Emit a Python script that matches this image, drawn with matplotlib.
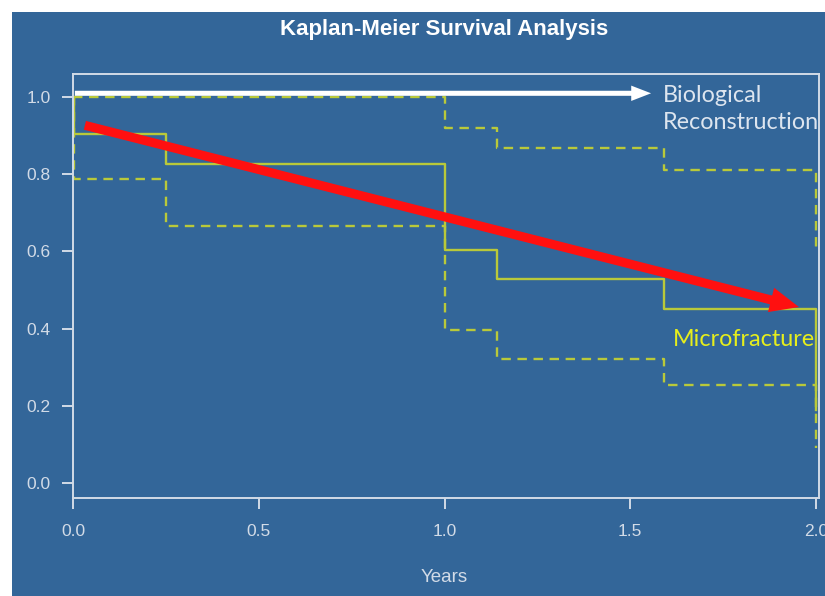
import matplotlib
matplotlib.use("Agg")
import matplotlib.pyplot as plt
from matplotlib.patches import Rectangle

# Kaplan-Meier step data
times = [0.0, 0.003, 0.25, 1.0, 1.14, 1.59, 2.0]
surv = [1.0, 0.904, 0.828, 0.603, 0.528, 0.452, 0.19]
upper = [1.0, 1.0, 1.0, 0.919, 0.867, 0.811, 0.61]
lower = [1.0, 0.788, 0.667, 0.396, 0.321, 0.254, 0.09]

x_ticks = [0.0, 0.5, 1.0, 1.5, 2.0]
y_ticks = [0.0, 0.2, 0.4, 0.6, 0.8, 1.0]

# annotation arrows (start, end) in data units
white_arrow = [(0.005, 1.010), (1.556, 1.010)]
red_arrow = [(0.032, 0.927), (1.954, 0.456)]

bg = "#336699"
fg = "#d2dbe7"
km_col = "#b9c93a"

fig = plt.figure(figsize=(8.25, 5.96), dpi=100)
fig.patch.set_facecolor("white")
fig.patches.append(Rectangle((12 / 825, 0), 1 - 12 / 825, 1 - 12 / 596,
                             transform=fig.transFigure, facecolor=bg,
                             edgecolor="none", zorder=-10))

ax = fig.add_axes([73 / 825, 1 - 498 / 596, (819 - 73) / 825, (498 - 74) / 596])
ax.set_zorder(5)
ax.set_facecolor(bg)
ax.set_xlim(0, 2.008)
ax.set_ylim(-0.039, 1.06)

ax.step(times, surv, where="post", color=km_col, lw=1.7)
ax.step(times, upper, where="post", color=km_col, lw=1.7, dashes=(4, 2.8))
ax.step(times, lower, where="post", color=km_col, lw=1.7, dashes=(4, 2.8))

for sp in ax.spines.values():
    sp.set_color(fg)
    sp.set_linewidth(1.4)

ax.set_xticks(x_ticks)
ax.set_yticks(y_ticks)
ax.set_xticklabels([f"{v:.1f}" for v in x_ticks])
ax.set_yticklabels([f"{v:.1f}" for v in y_ticks])
ax.tick_params(axis="both", colors=fg, length=8, width=1.4, labelsize=12.5,
               labelcolor=fg)
ax.tick_params(axis="x", pad=11)
ax.tick_params(axis="y", pad=8)
for lab in ax.get_xticklabels() + ax.get_yticklabels():
    lab.set_family("Liberation Sans")

ax.annotate("", xy=white_arrow[1], xytext=white_arrow[0],
            arrowprops=dict(arrowstyle="simple,tail_width=0.28,head_width=0.85,head_length=1.1",
                            mutation_scale=13, color="white", lw=0,
                            shrinkA=0, shrinkB=0))
ax.annotate("", xy=red_arrow[1], xytext=red_arrow[0],
            arrowprops=dict(arrowstyle="simple,tail_width=0.36,head_width=1.0,head_length=1.15",
                            mutation_scale=18, color="#ff1010", lw=0,
                            shrinkA=0, shrinkB=0))

fig.text(663 / 825, 1 - 109 / 596, "Biological\nReconstruction", color="#dde5ef",
         fontsize=16.8, family="Lato", ha="left", va="center", linespacing=1.35,
         zorder=10)
fig.text(673 / 825, 1 - 340 / 596, "Microfracture", color="#e6ee1c",
         fontsize=16.8, family="Lato", ha="left", va="center", zorder=10)

fig.text(444 / 825, 1 - 30 / 596, "Kaplan-Meier Survival Analysis", color="white",
         fontsize=16, fontweight="bold", family="Liberation Sans",
         ha="center", va="center")
fig.text(444 / 825, 1 - 577 / 596, "Years", color=fg, fontsize=13.5,
         family="Liberation Sans", ha="center", va="center")

fig.savefig("out.png", dpi=100, facecolor=fig.get_facecolor())
